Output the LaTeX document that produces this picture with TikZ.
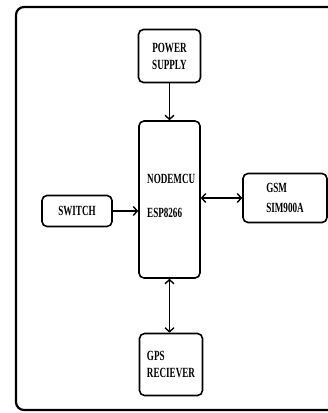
\documentclass[tikz,border=0pt]{standalone}
\usepackage{fontspec}
\setmainfont{Liberation Serif}[FakeStretch=0.65]
\usetikzlibrary{arrows.meta}

\begin{document}
\begin{tikzpicture}[x=1pt, y=-1pt,
	block/.style={draw, line width=1.6pt, rounded corners=5pt, inner sep=0pt, font=\fontsize{14}{16}\selectfont\bfseries},
	txt/.style={inner sep=0pt, anchor=base west, font=\fontsize{14}{16}\selectfont\bfseries},
	link/.style={line width=1.4pt, -{Straight Barb[length=4pt, width=9pt]}},
	twoway/.style={line width=1.4pt, {Straight Barb[length=4pt, width=9pt]}-{Straight Barb[length=4pt, width=9pt]}}]
	\clip (0,0) rectangle (328,413);
	\draw [line width=2.2pt, rounded corners=8pt] (16,7) rectangle (350,410);
	\node [block, minimum width=62, minimum height=53, align=center] (power) at (169.5,56) {POWER\\[1pt]SUPPLY};
	\node [block, minimum width=61, minimum height=157] (mcu) at (169.5,199.5) {};
	\node [txt] (mcuname) at (147,183) {NODEMCU};
	\node [txt] (mcuchip) at (147,217) {ESP8266};
	\node [block, minimum width=70, minimum height=31] (switch) at (77,211) {SWITCH};
	\node [block, minimum width=84, minimum height=49, align=left] (gsm) at (285,198) {GSM\\[4pt]SIM900A};
	\node [block, minimum width=63, minimum height=62, align=left] (gps) at (171,364.5) {GPS\\[1pt]RECIEVER};
	\draw [link] (power) -- (mcu);
	\draw [link] (switch) -- (switch -| mcu.west);
	\draw [twoway] (mcu.east |- gsm) -- (gsm);
	\draw [twoway] (mcu) -- (mcu |- gps.north);
\end{tikzpicture}
\end{document}
